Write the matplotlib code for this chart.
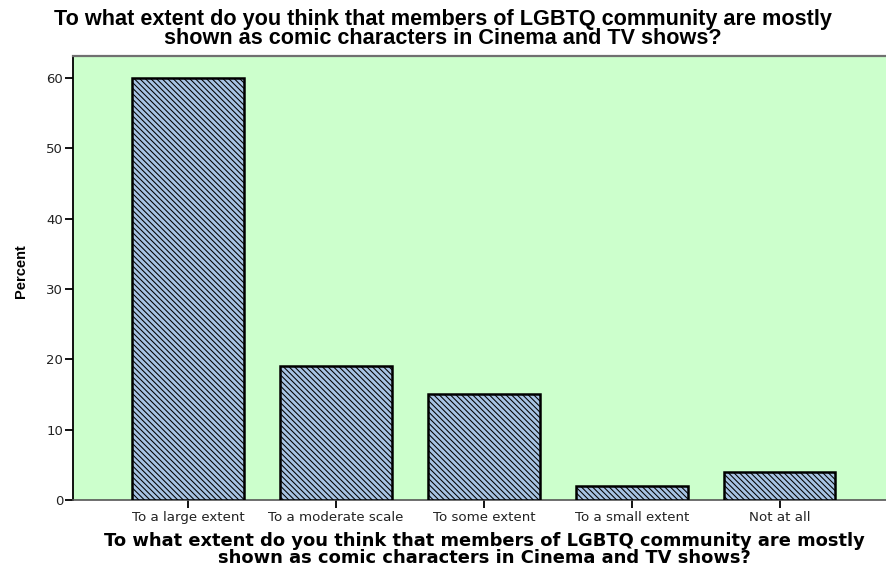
import matplotlib
matplotlib.use("Agg")
import matplotlib.pyplot as plt

categories = ["To a large extent", "To a moderate scale", "To some extent",
              "To a small extent", "Not at all"]
values = [60, 19, 15, 2, 4]
yticks = [0, 10, 20, 30, 40, 50, 60]
title_lines = ["To what extent do you think that members of LGBTQ community are mostly",
               "shown as comic characters in Cinema and TV shows?"]
W, H = 886, 570

plt.rcParams['hatch.linewidth'] = 0.75
plt.rcParams['hatch.color'] = '#2a2a2a'
fig = plt.figure(figsize=(W/100, H/100), dpi=100)
ax = fig.add_axes([73/W, 70/H, 1 - 73/W + 0.01, (500-56)/H])
ax.set_facecolor("#CCFFCC")

x = list(range(len(categories)))
ax.bar(x, values, width=0.755, color="#A7C3E3", edgecolor="black",
       linewidth=1.8, hatch="\\\\\\\\\\\\", zorder=3)

ax.set_xlim(-0.78, 4.78)
ax.set_ylim(0, 63.1)
ax.set_yticks(yticks)
ax.set_yticklabels([str(t) for t in yticks], fontsize=9.5, family="DejaVu Sans", color="#222222")
ax.set_xticks(x)
ax.set_xticklabels(categories, fontsize=9.6, family="DejaVu Sans", color="#222222")
ax.tick_params(axis="y", length=6, width=1.3, pad=1)
ax.tick_params(axis="x", length=6, width=1.3, pad=2, direction="out")

ax.spines["right"].set_visible(False)
ax.spines["left"].set_color("black")
ax.spines["left"].set_linewidth(1.3)
ax.spines["top"].set_color("#707070")
ax.spines["top"].set_linewidth(1.6)
ax.spines["bottom"].set_color("#555555")
ax.spines["bottom"].set_linewidth(1.2)

ax.set_ylabel("Percent", fontsize=10.5, fontweight="bold", family="Liberation Sans")
ax.yaxis.set_label_coords(28/W, (H-271)/H, transform=fig.transFigure)
ax.set_xlabel("\n".join(title_lines), fontsize=12.9, fontweight="bold", family="DejaVu Sans",
              linespacing=0.93, labelpad=6)

fig.text(0.5, 1 - 29/H, "\n".join(title_lines), ha="center", va="center",
         multialignment="center", fontsize=15.6, linespacing=0.86,
         fontweight="bold", family="Liberation Sans")

fig.savefig("out.png", dpi=100)
